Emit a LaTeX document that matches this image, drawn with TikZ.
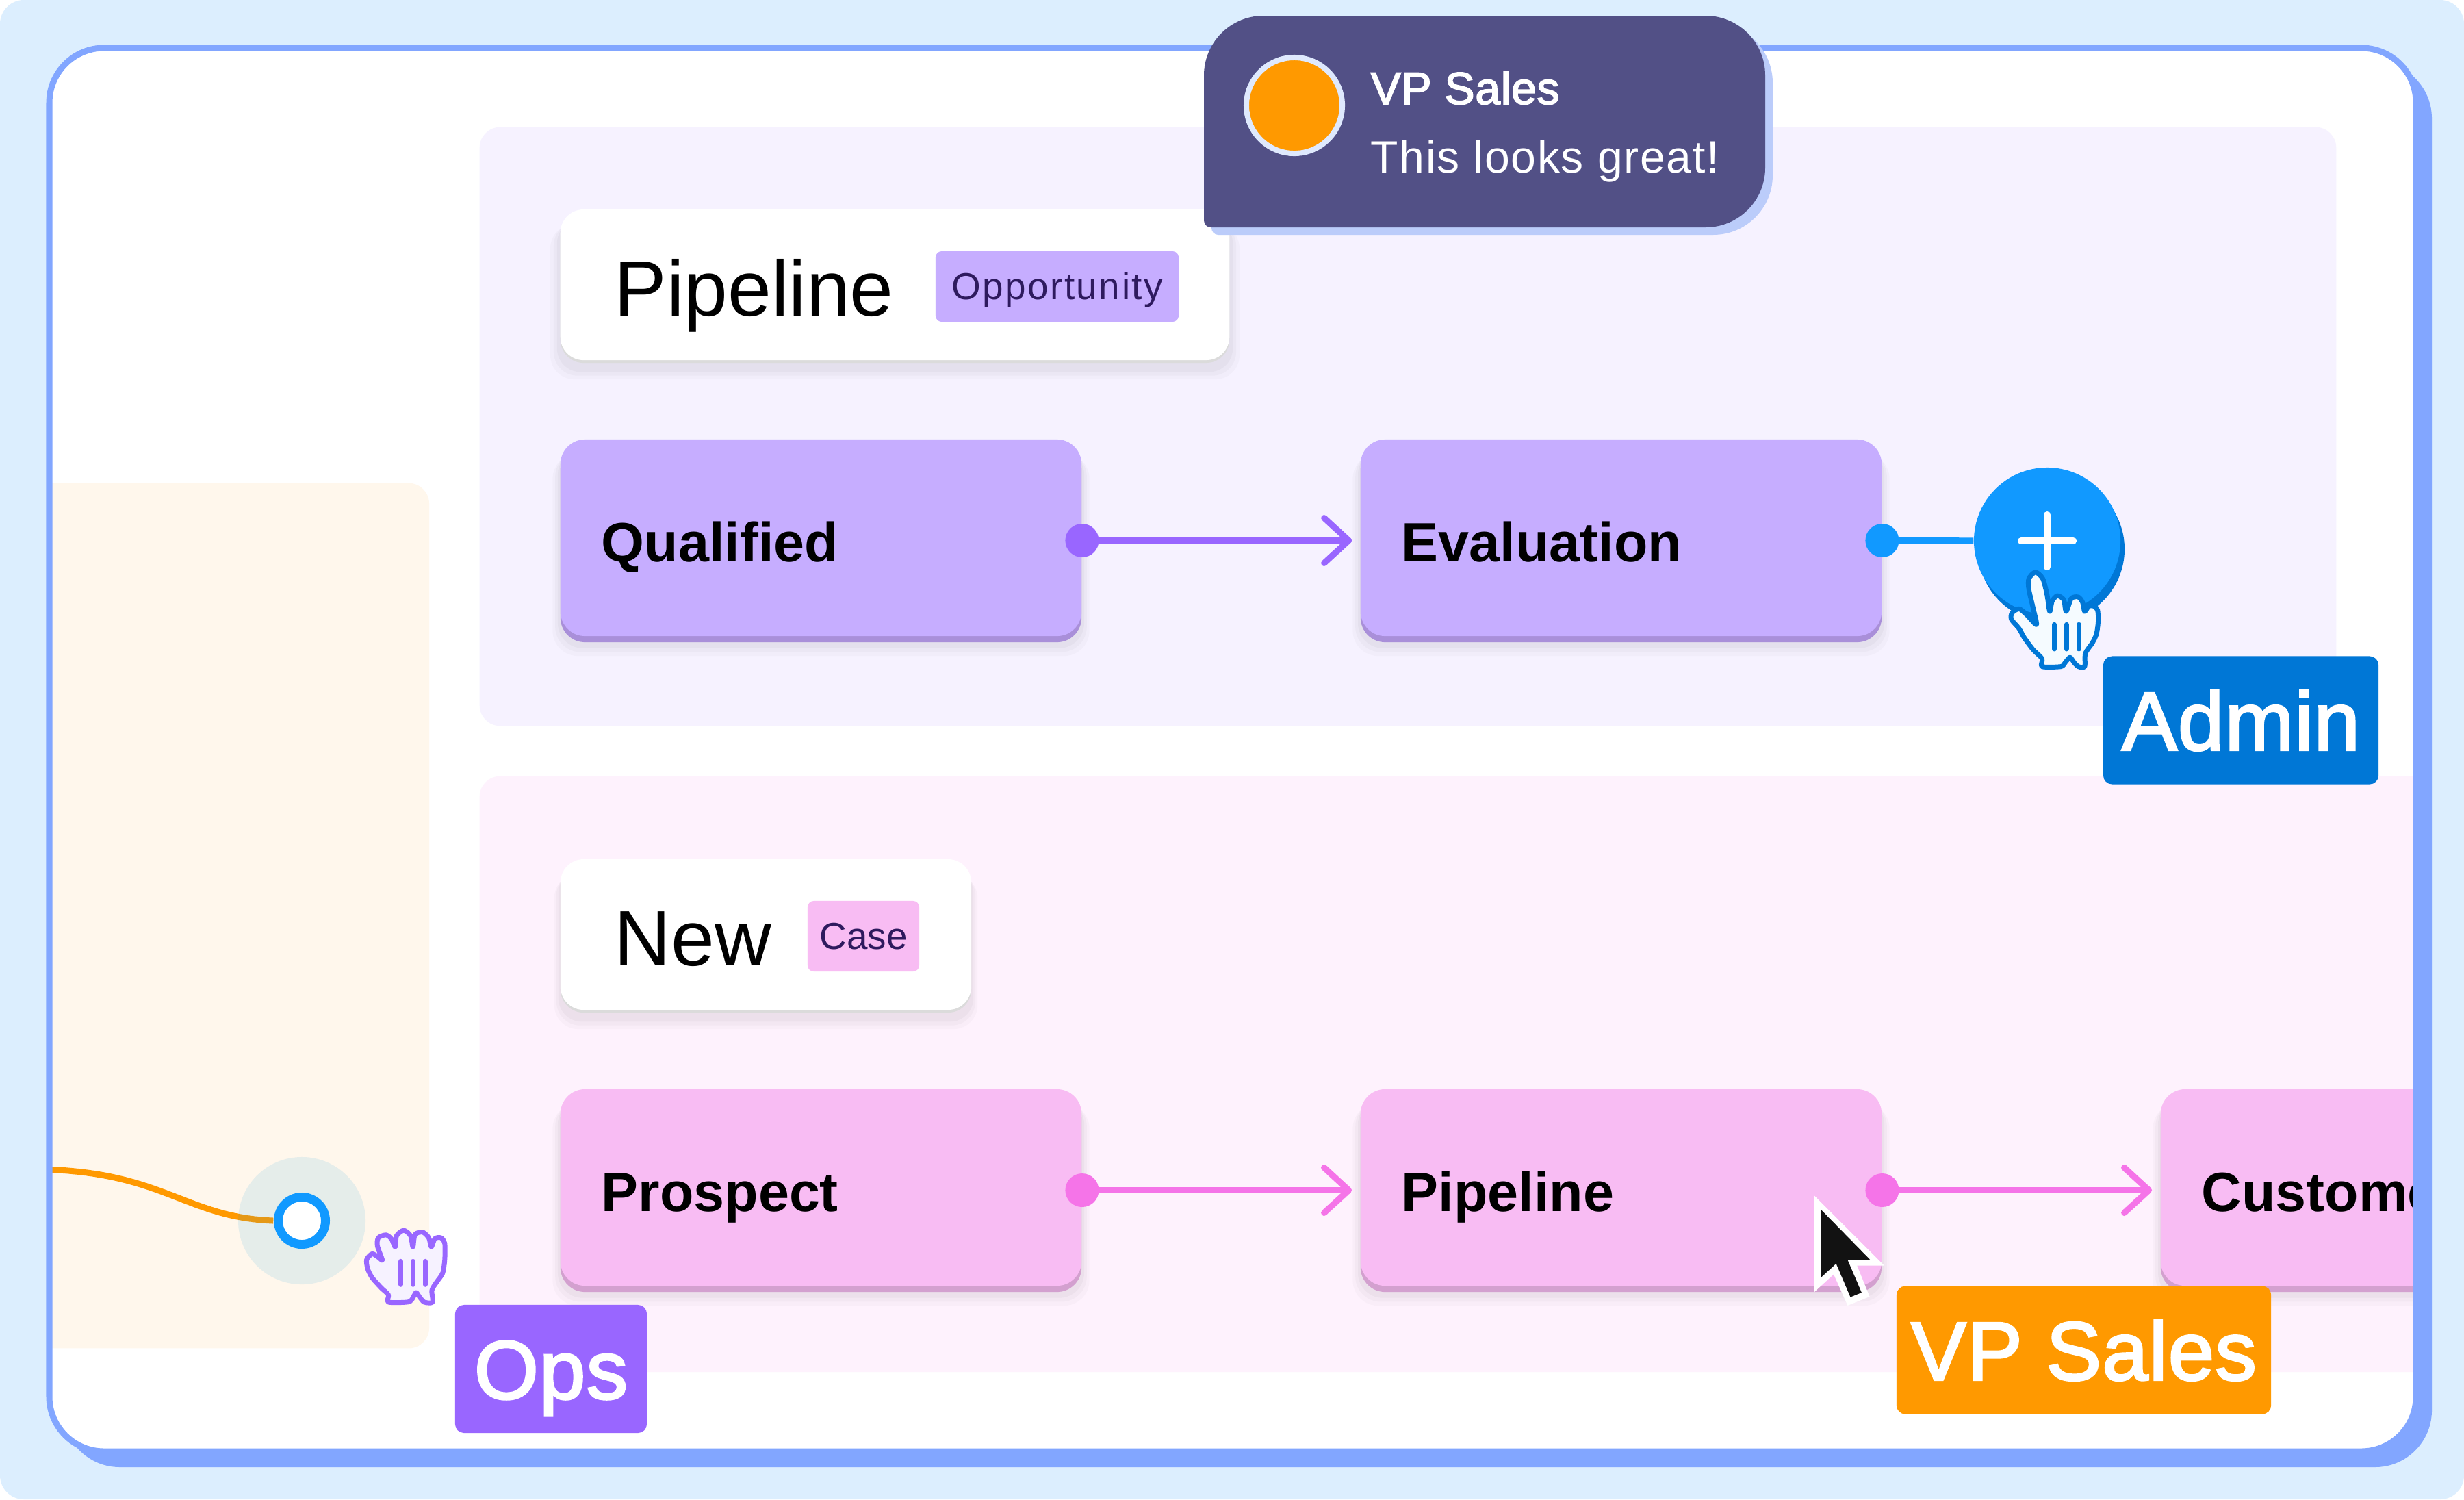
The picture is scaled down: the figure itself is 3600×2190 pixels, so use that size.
\documentclass[tikz,border=0pt]{standalone}
\usepackage{fontspec}
\usepackage{xcolor}
\usepackage{tikz}
\usetikzlibrary{arrows.meta,positioning,shadows}
\setmainfont{Liberation Sans}
\newfontfamily\tagface[FakeBold=2.5,LetterSpace=1]{Liberation Sans}
\definecolor{skyback}{HTML}{DCEEFE}
\definecolor{panelblue}{HTML}{82A6FF}
\definecolor{oppzone}{HTML}{F6F2FF}
\definecolor{casezone}{HTML}{FEF2FD}
\definecolor{leadzone}{HTML}{FFF7EC}
\definecolor{oppfill}{HTML}{C6ADFF}
\definecolor{oppedge}{HTML}{A98FD9}
\definecolor{oppline}{HTML}{9966FF}
\definecolor{casefill}{HTML}{F8BCF3}
\definecolor{caseedge}{HTML}{D3A0CF}
\definecolor{caseline}{HTML}{F574E8}
\definecolor{hitblue}{HTML}{1199FF}
\definecolor{deepblue}{HTML}{0077D6}
\definecolor{amber}{HTML}{FF9900}
\definecolor{bubble}{HTML}{525086}
\definecolor{bubbleback}{HTML}{BBCCFA}
\definecolor{avatarring}{HTML}{DFE9FD}
\definecolor{inkpurple}{HTML}{2E1A5E}

\begin{document}
\begin{tikzpicture}[x=.01cm,y=-.01cm,
  zone/.style={anchor=north west, inner sep=0, rounded corners=.3cm},
  lift/.style={general shadow={fill=black,fill opacity=.018,shadow yshift=-.24cm,shadow scale=1.03},
    general shadow={fill=black,fill opacity=.022,shadow yshift=-.2cm,shadow scale=1.02},
    general shadow={fill=black,fill opacity=.028,shadow yshift=-.16cm,shadow scale=1.01}},
  stagebox/.style={lift, general shadow={shadow yshift=-.09cm, fill=#1edge},
    fill=#1fill, rounded corners=.36cm, inner sep=0, inner xsep=.6cm, minimum height=2.87cm,
    text width=6.41cm, align=left, text height=.7cm, text depth=0cm,
    font=\fontsize{23}{28}\selectfont\bfseries},
  titlecard/.style={lift, general shadow={shadow yshift=-.04cm, fill=black!14},
    fill=white, rounded corners=.34cm, inner sep=0, minimum height=2.2cm, align=left,
    text height=.9cm, text depth=0cm, font=\fontsize{32.6}{38}\selectfont},
  kindtag/.style={fill=oppfill, rounded corners=.09cm, inner sep=0, minimum height=1.03cm,
    text=inkpurple, text height=.37cm, text depth=0cm, font=\fontsize{15.6}{18}\selectfont},
  usertag/.style={rounded corners=.13cm, inner sep=0, minimum height=1.87cm, text=white,
    text height=.87cm, text depth=0cm, font=\fontsize{34.4}{40}\selectfont\tagface},
  port/.style={circle, inner sep=0, minimum size=.49cm},
  link/.style={line width=.09cm},
  flow/.style={link, shorten >=.12cm, -{Straight Barb[length=.36cm,width=.66cm,round]}},
  bubbletext/.style={anchor=base west, inner sep=0, text=white},
  handline/.style={line width=.07cm, line join=round, line cap=round}]

\fill[white] (0,0) rectangle (3600,2190);
\useasboundingbox (0,0) rectangle (3600,2190);
\fill[skyback, rounded corners=.35cm] (0,0) rectangle (3600,2190);

% window
\fill[panelblue, rounded corners=.83cm] (92,90) rectangle (3553,2143);
\fill[white, rounded corners=.8cm] (72,70) rectangle (3530,2120);

\begin{scope}
\clip[rounded corners=.8cm] (72,70) rectangle (3530,2120);
\node[zone, fill=leadzone, minimum width=6cm, minimum height=12.63cm] (leads) at (26,705) {};
\node[zone, fill=oppzone, minimum width=27.11cm, minimum height=8.74cm] (opps) at (700,185) {};
\node[zone, fill=casezone, minimum width=30cm, minimum height=8.7cm] (cases) at (700,1133) {};

% lead line into the selected port
\coordinate (leadstart) at (60,1708);
\node[circle, inner sep=0, minimum size=.82cm] (selected) at (441,1783) {};
\draw[amber, line width=.09cm] (leadstart) .. controls (240,1712) and (270,1778) .. (selected.west);
\node[circle, inner sep=0, minimum size=1.86cm, fill={rgb,255:red,0;green,150;blue,224}, fill opacity=.1] (halo) at (441,1783) {};
\node[circle, draw=hitblue, fill=white, line width=.13cm, inner sep=0, minimum size=.69cm] (selring) at (441,1783) {};

% opportunity row
\node[titlecard, minimum width=9.77cm, text width=8.19cm, inner xsep=.79cm] (oppcard) at (1307.5,416) {Pipeline};
\node[kindtag, minimum width=3.55cm] (opptag) at (1544.5,418.5) {\addfontfeature{LetterSpace=4.6}Opportunity};
\node[stagebox=opp, minimum width=7.61cm] (qualified) at (1199.5,785.5) {Qualified};
\node[stagebox=opp, minimum width=7.61cm] (evaluation) at (2368.5,785.5) {Evaluation};
\node[port, fill=oppline] (qualifiedport) at ([yshift=-.04cm]qualified.east) {};
\node[port, fill=hitblue] (evaluationport) at ([yshift=-.04cm]evaluation.east) {};
\draw[flow, oppline] (qualifiedport) -- (qualifiedport -| evaluation.west);

% case row
\node[titlecard, minimum width=6cm, text width=4.42cm, inner xsep=.79cm] (casecard) at (1119,1365) {New};
\node[kindtag, fill=casefill, minimum width=1.63cm] (casetag) at (1261.5,1367.5) {Case};
\node[stagebox=case, minimum width=7.61cm] (prospect) at (1199.5,1734.5) {Prospect};
\node[stagebox=case, minimum width=7.61cm] (pipeline) at (2368.5,1734.5) {Pipeline};
\node[stagebox=case, minimum width=7.61cm] (customer) at (3537.5,1734.5) {Customer};
\node[port, fill=caseline] (prospectport) at ([yshift=-.04cm]prospect.east) {};
\node[port, fill=caseline] (pipelineport) at ([yshift=-.04cm]pipeline.east) {};
\draw[flow, caseline] (prospectport) -- (prospectport -| pipeline.west);
\draw[flow, caseline] (pipelineport) -- (pipelineport -| customer.west);
\end{scope}

\draw[panelblue, line width=.09cm, rounded corners=.8cm] (72,70) rectangle (3530,2120);

% add button
\fill[deepblue] (2997,802) circle (1.07cm);
\node[circle, fill=hitblue, inner sep=0, minimum size=2.14cm] (addstep) at (2991,790) {};
\draw[link, hitblue] (evaluationport) -- (addstep);
\draw[white, line width=.1cm, line cap=round] ([xshift=-.38cm]addstep.center) -- ([xshift=.38cm]addstep.center);
\draw[white, line width=.1cm, line cap=round] ([yshift=.38cm]addstep.center) -- ([yshift=-.38cm]addstep.center);

% pointing hand
\begin{scope}[shift={(2700,600)}, x=.0051cm, y=-.003827cm]
\draw[handline, draw=deepblue, fill=white!96!hitblue] plot[smooth cycle, tension=.45] coordinates {
  (540,815) (530,750) (518,680) (518,640) (537,615) (558,640) (570,700) (578,765)
  (585,725) (600,705) (618,720) (625,765) (640,715) (660,710) (672,730) (678,765)
  (690,745) (705,745) (715,760) (717,800) (712,850) (700,885) (680,925) (678,975)
  (660,975) (648,960) (636,940) (622,960) (610,975) (556,975) (556,945) (530,910)
  (505,865) (490,830) (468,795) (470,770) (490,755) (510,775)};
\foreach \barx in {591,626,661}
  \draw[handline, deepblue] (\barx,815) -- (\barx,908);
\end{scope}

% open hand
\begin{scope}[shift={(300,1650)}, x=.004464cm, y=-.003333cm]
\draw[handline, draw=oppline, fill=oppzone] plot[smooth cycle, tension=.45] coordinates {
  (578,572) (565,560) (545,545) (527,570) (530,610) (545,650) (575,695) (598,725)
  (598,757) (660,757) (675,745) (688,715) (700,735) (715,757) (742,757) (740,705)
  (755,670) (775,630) (782,570) (782,500) (770,475) (750,478) (738,515) (730,475)
  (710,450) (685,460) (678,515) (670,465) (648,442) (625,465) (620,515) (608,480)
  (590,462) (565,475) (562,510)};
\foreach \barx in {638,678,718}
  \draw[handline, oppline] (\barx,578) -- (\barx,680);
\end{scope}

% people
\node[usertag, fill=deepblue, minimum width=4.02cm] (admintag) at (3274,1052) {Admin};
\node[usertag, fill=oppline, minimum width=2.8cm] (opstag) at (805,1999.5) {Ops};
\node[usertag, fill=amber, minimum width=5.47cm] (salestag) at (3044.5,1972) {VP Sales};

% cursor
\begin{scope}[shift={(2600,1650)}, x=.0051cm, y=-.003333cm]
\fill[white] (100,290) -- (300,597) -- (222,597) -- (258,733) -- (195,772) -- (155,635) -- (100,712) -- cycle;
\fill[black!93] (118,350) -- (260,572) -- (195,572) -- (235,715) -- (203,735) -- (162,588) -- (118,650) -- cycle;
\end{scope}

% comment bubble
\fill[bubbleback] (1770,200) [rounded corners=.87cm] -- (1770,34) -- (2590,34) -- (2590,343) [rounded corners=.1cm] -- (1770,343) -- cycle;
\fill[bubble] (1759,180) [rounded corners=.87cm] -- (1759,23) -- (2579,23) -- (2579,332) [rounded corners=.1cm] -- (1759,332) -- cycle;
\node[circle, draw=avatarring, fill=amber, line width=.08cm, inner sep=0, minimum size=1.4cm] (avatar) at (1891,154) {};
\node[bubbletext, font=\fontsize{18.8}{22}\selectfont\tagface] (sender) at (2002,152) {VP Sales};
\node[bubbletext, font=\fontsize{18.8}{22}\selectfont\addfontfeature{LetterSpace=2.6}] (comment) at (2002,252) {This looks great!};
\end{tikzpicture}
\end{document}
